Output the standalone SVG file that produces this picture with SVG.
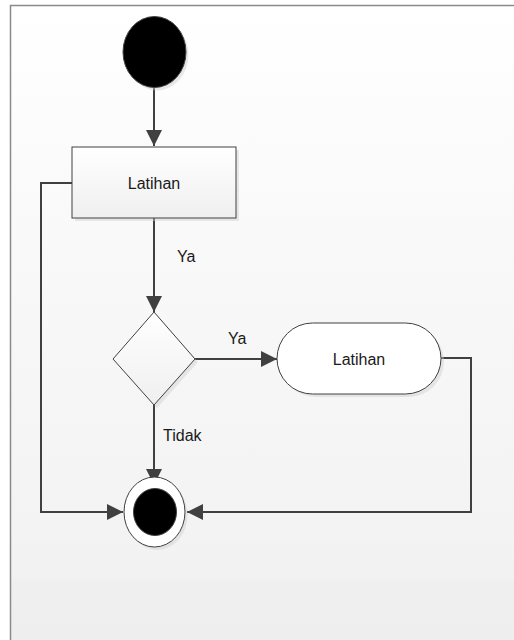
<svg xmlns="http://www.w3.org/2000/svg" width="514" height="640" viewBox="0 0 514 640">
  <defs>
    <linearGradient id="bg" x1="0" y1="0" x2="0" y2="1">
      <stop offset="0" stop-color="#ffffff"/>
      <stop offset="0.3" stop-color="#fafafa"/>
      <stop offset="0.9" stop-color="#f2f2f2"/>
      <stop offset="0.91" stop-color="#efefef"/>
      <stop offset="1" stop-color="#eeeeee"/>
    </linearGradient>
    <linearGradient id="nodeFill" x1="0" y1="0" x2="0" y2="1">
      <stop offset="0" stop-color="#ffffff"/>
      <stop offset="1" stop-color="#efefef"/>
    </linearGradient>
    <marker id="arrow" viewBox="0 0 16 16" refX="16" refY="8" markerWidth="16" markerHeight="16" markerUnits="userSpaceOnUse" orient="auto">
      <path d="M0,0 L16,8 L0,16 Z" fill="#404040"/>
    </marker>
    <style>
      .edge { fill: none; stroke: #404040; stroke-width: 2; }
      .box { fill: url(#nodeFill); stroke: #404040; stroke-width: 1; }
      .plain { fill: #ffffff; stroke: #404040; stroke-width: 1; }
      .shadow { fill: #cfcfcf; opacity: 0.45; }
      .label { font-family: "Liberation Sans", Arial, sans-serif; font-size: 16px; fill: #1a1a1a; }
      .mid { text-anchor: middle; }
    </style>
  </defs>

  <!-- page background and frame -->
  <rect x="0" y="0" width="514" height="640" fill="#ffffff"/>
  <rect x="10" y="5" width="504" height="635" fill="url(#bg)"/>
  <path d="M10.5,640 V5.5 H514" fill="none" stroke="#8a8a8a" stroke-width="1.5"/>

  <!-- connectors -->
  <g id="connectors">
    <path class="edge" d="M154,88 V146" marker-end="url(#arrow)"/>
    <path class="edge" d="M154,218 V312" marker-end="url(#arrow)"/>
    <path class="edge" d="M195,359 H277" marker-end="url(#arrow)"/>
    <path class="edge" d="M154,405 V485" marker-end="url(#arrow)"/>
    <path class="edge" d="M72,183 H41 V512 H123" marker-end="url(#arrow)"/>
    <path class="edge" d="M441,358 H471 V512 H187" marker-end="url(#arrow)"/>
    <text class="label" x="177" y="262">Ya</text>
    <text class="label" x="228" y="344">Ya</text>
    <text class="label" x="163" y="441">Tidak</text>
  </g>

  <!-- start node -->
  <g id="start">
    <ellipse class="shadow" cx="157" cy="55" rx="31.5" ry="35.5"/>
    <ellipse cx="154.5" cy="52" rx="31.5" ry="35.5" fill="#000000" stroke="#404040" stroke-width="1"/>
  </g>

  <!-- first activity -->
  <g id="latihan1">
    <rect class="shadow" x="75" y="150" width="164" height="71"/>
    <rect class="box" x="72" y="147" width="164" height="71"/>
    <text class="label mid" x="154" y="189">Latihan</text>
  </g>

  <!-- decision -->
  <g id="decision">
    <polygon class="shadow" points="157,315 198,362 157,408 116,362"/>
    <polygon class="box" points="154,312 195,359 154,405 113,359"/>
  </g>

  <!-- second activity -->
  <g id="latihan2">
    <rect class="shadow" x="280" y="326" width="164" height="71" rx="35.5" ry="35.5"/>
    <rect class="plain" x="277" y="323" width="164" height="71" rx="35.5" ry="35.5"/>
    <text class="label mid" x="359" y="365">Latihan</text>
  </g>

  <!-- final node -->
  <g id="end">
    <ellipse class="shadow" cx="157" cy="515" rx="30.5" ry="35"/>
    <ellipse cx="154.5" cy="512" rx="30.5" ry="35" fill="#ffffff" stroke="#404040" stroke-width="1"/>
    <ellipse cx="155" cy="512" rx="21.5" ry="23.5" fill="#000000" stroke="#404040" stroke-width="1"/>
  </g>
</svg>
